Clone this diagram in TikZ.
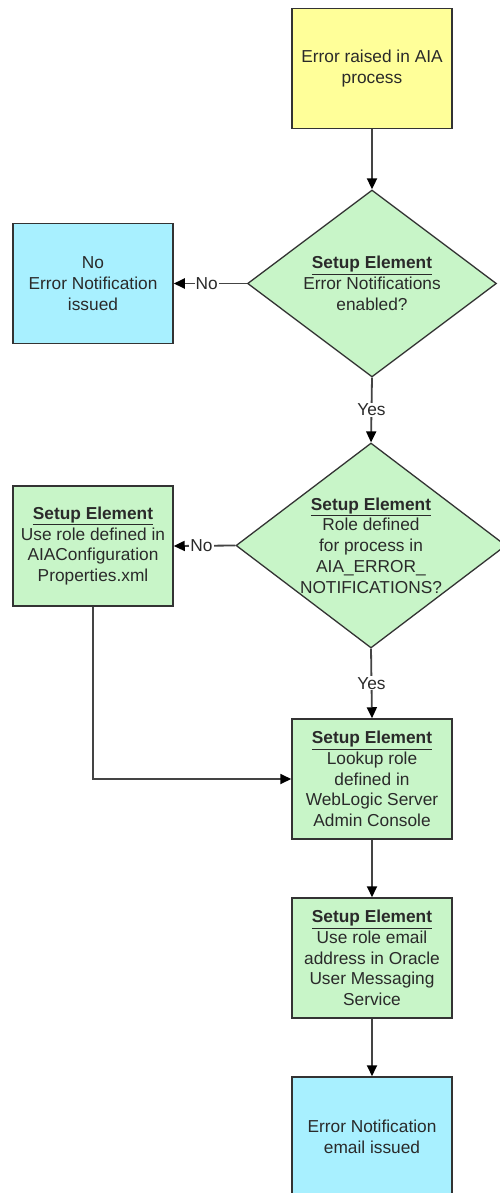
\documentclass[tikz,border=0pt]{standalone}
\usepackage{fontspec}
\setmainfont{Liberation Sans}
\usetikzlibrary{shapes.geometric,arrows.meta}
\definecolor{boxyellow}{HTML}{FFFF99}
\definecolor{boxcyan}{HTML}{A8F0FF}
\definecolor{boxgreen}{HTML}{C8F5C8}
\definecolor{edgegray}{HTML}{333333}
\definecolor{linegray}{HTML}{444444}
\definecolor{txtgray}{HTML}{2A2A2A}
\newcommand{\setupel}{\underline{\textbf{Setup Element}}}
\tikzset{
  txt/.style={font=\fontsize{17.3}{20.7}\selectfont, text=txtgray, align=center, inner sep=0pt},
  procbox/.style={draw=edgegray, line width=1.5pt, minimum width=160pt, minimum height=120pt, inner sep=0pt, txt},
  yelbox/.style={procbox, fill=boxyellow},
  cyanbox/.style={procbox, fill=boxcyan},
  grnbox/.style={procbox, fill=boxgreen},
  decision/.style={diamond, draw=edgegray, line width=1.3pt, fill=boxgreen, inner sep=0pt},
  conn/.style={draw=linegray, line width=1.8pt, -{Triangle[length=11pt,width=10pt]}, arrows={[color=black]}},
  lbl/.style={txt, fill=white, inner xsep=1pt, inner ysep=1pt}
}
\begin{document}
\begin{tikzpicture}[x=1pt,y=-1pt]
\clip (0,0) rectangle (500,1193);
\fill[white] (0,0) rectangle (500,1193);

\node[yelbox] (start) at (372,68.5) {Error raised in AIA\\process};

\node[decision, minimum width=249pt, minimum height=187pt] (d1) at (372,283.5) {};
\node[txt] (d1t) at (d1.center) {\setupel\\Error Notifications\\enabled?};

\node[cyanbox] (noerr) at (93,283.5) {No\\Error Notification\\issued};

\node[decision, minimum width=270pt, minimum height=205pt] (d2) at (371,545.5) {};
\node[txt] (d2t) at (d2.center) {\setupel\\Role defined\\for process in\\AIA\_ERROR\_\\NOTIFICATIONS?};

\node[grnbox] (cfg) at (93,546) {\setupel\\Use role defined in\\AIAConfiguration\\Properties.xml};

\node[grnbox] (lookup) at (372,779) {\setupel\\Lookup role\\defined in\\WebLogic Server\\Admin Console};

\node[grnbox] (email) at (372,958) {\setupel\\Use role email\\address in Oracle\\User Messaging\\Service};

\node[cyanbox] (issued) at (372,1137) {Error Notification\\email issued};

\draw[conn] (start.south) -- (d1.north);
\draw[conn] (d1.west) -- node[lbl, pos=0.55] (no1) {No} (noerr.east);
\draw[conn] (d1.south) -- node[lbl] (yes1) {Yes} (d2.north);
\draw[conn] (d2.west) -- node[lbl, pos=0.55] (no2) {No} (cfg.east);
\draw[conn] (d2.south) -- node[lbl] (yes2) {Yes} (lookup.north);
\draw[conn] (cfg.south) |- (lookup.west);
\draw[conn] (lookup.south) -- (email.north);
\draw[conn] (email.south) -- (issued.north);
\end{tikzpicture}
\end{document}
